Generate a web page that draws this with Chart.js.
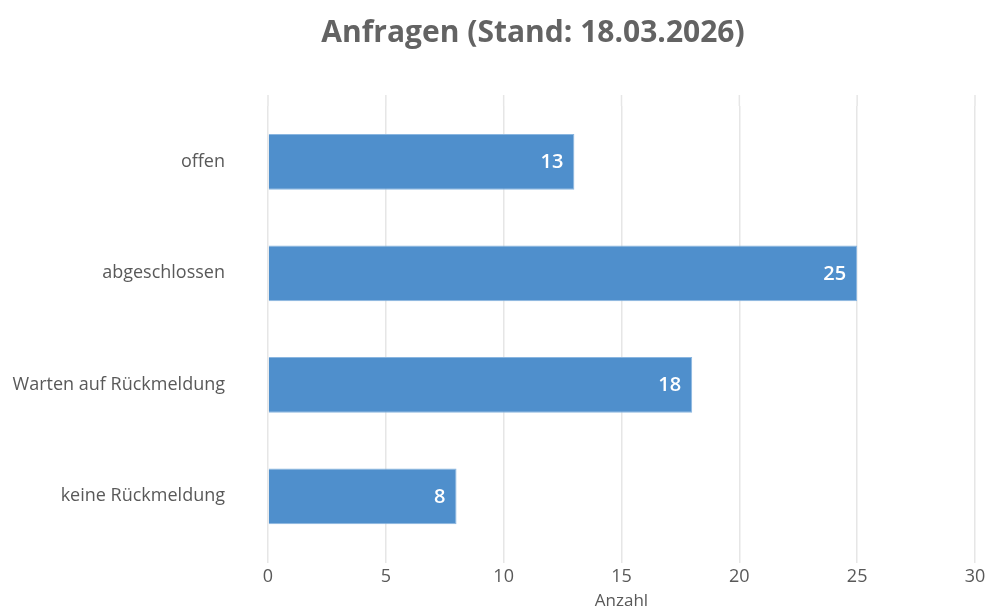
<!DOCTYPE html>
<html>
<head>
<meta charset="utf-8">
<script src="https://cdn.jsdelivr.net/npm/chart.js@4/dist/chart.umd.min.js"></script>
<style>
  html, body { margin: 0; padding: 0; background: #fff; }
  #wrap { width: 989px; height: 611px; position: relative; }
</style>
</head>
<body>
<div id="wrap"><canvas id="chart"></canvas></div>
<script>
const categories = ['offen', 'abgeschlossen', 'Warten auf Rückmeldung', 'keine Rückmeldung'];
const counts = [13, 25, 18, 8];
const xTicks = [0, 5, 10, 15, 20, 25, 30];
const chartTitle = 'Anfragen (Stand: 18.03.2026)';

const FONT = '"Open Sans", Lato, sans-serif';
const BAR_COLOR = '#4f8fcc';
const GRID_COLOR = '#e6e6e6';
const TEXT_COLOR = '#595959';

// white value labels at the end of each bar
const valueLabels = {
    id: 'valueLabels',
    afterDatasetsDraw(chart) {
        const ctx = chart.ctx;
        const meta = chart.getDatasetMeta(0);
        ctx.save();
        ctx.fillStyle = '#ffffff';
        ctx.font = '600 20px ' + FONT;
        ctx.textAlign = 'right';
        ctx.textBaseline = 'middle';
        meta.data.forEach((bar, i) => {
            ctx.fillText(String(counts[i]), bar.x - 11, bar.y + 1);
        });
        ctx.restore();
    },
};

// grid lines poke a little above the plot area, title sits off-centre above
const gridTop = {
    id: 'gridTop',
    beforeDatasetsDraw(chart) {
        const ctx = chart.ctx;
        const x = chart.scales.x;
        const top = chart.chartArea.top;
        ctx.save();
        ctx.strokeStyle = GRID_COLOR;
        ctx.lineWidth = 1.5;
        x.ticks.forEach((t) => {
            const px = x.getPixelForValue(t.value);
            ctx.beginPath();
            ctx.moveTo(px, top - 11);
            ctx.lineTo(px, top);
            ctx.stroke();
        });
        ctx.fillStyle = '#636363';
        ctx.font = 'bold 30px ' + FONT;
        ctx.textAlign = 'center';
        ctx.textBaseline = 'middle';
        ctx.fillText(chartTitle, 533, 33);
        ctx.restore();
    },
};

new Chart(document.getElementById('chart'), {
    type: 'bar',
    data: {
        labels: categories,
        datasets: [{
            label: 'Anzahl',
            data: counts,
            backgroundColor: BAR_COLOR,
            borderColor: '#8ab6e0',
            borderWidth: 1,
            barPercentage: 1,
            categoryPercentage: 0.5,
        }],
    },
    options: {
        indexAxis: 'y',
        responsive: true,
        maintainAspectRatio: false,
        animation: false,
        layout: { padding: { left: 0, right: 14, top: 106, bottom: 0 } },
        plugins: {
            legend: { display: false },
            tooltip: { enabled: false },
            title: { display: false },
        },
        scales: {
            x: {
                min: 0,
                max: 30,
                afterBuildTicks(scale) {
                    scale.ticks = xTicks.map((v) => ({ value: v }));
                },
                afterFit(scale) { scale.height = 59; },
                grid: { color: GRID_COLOR, lineWidth: 1.5, drawTicks: true, tickLength: 11 },
                border: { display: false },
                ticks: {
                    color: TEXT_COLOR,
                    padding: 3,
                    font: { family: FONT, size: 18 },
                },
                title: {
                    display: true,
                    text: 'Anzahl',
                    color: TEXT_COLOR,
                    padding: 0,
                    font: { family: FONT, size: 17 },
                },
            },
            y: {
                afterFit(scale) { scale.width = 268; },
                grid: { display: false, drawTicks: false },
                border: { display: false },
                ticks: {
                    color: TEXT_COLOR,
                    padding: 43,
                    font: { family: FONT, size: 18 },
                },
            },
        },
    },
    plugins: [valueLabels, gridTop],
});
</script>
</body>
</html>
